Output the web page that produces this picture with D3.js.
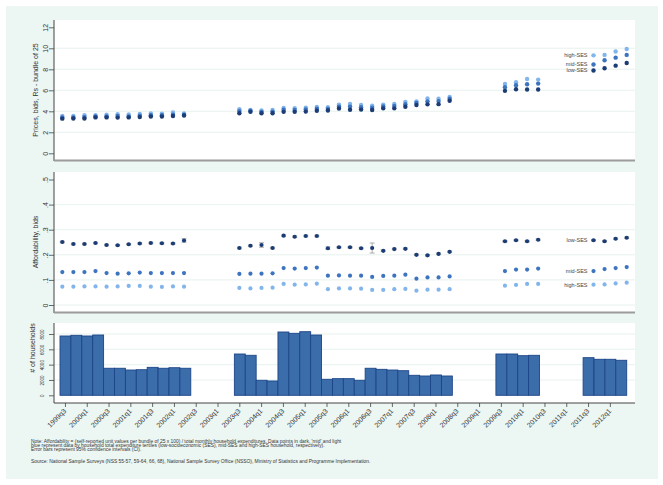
<!DOCTYPE html>
<html><head><meta charset="utf-8">
<script src="https://cdn.jsdelivr.net/npm/d3@7"></script>
<style>body{margin:0;background:#fff}svg{display:block;font-family:"Liberation Sans",Arial,Helvetica,sans-serif}</style>
</head><body><svg id="c" width="663" height="485"></svg>
<script>
// ---------------- DATA ----------------
const quarters = ["1999q3","1999q4","2000q1","2000q2","2000q3","2000q4","2001q1","2001q2","2001q3","2001q4",
 "2002q1","2002q2","2002q3","2002q4","2003q1","2003q2","2003q3","2003q4","2004q1","2004q2",
 "2004q3","2004q4","2005q1","2005q2","2005q3","2005q4","2006q1","2006q2","2006q3","2006q4",
 "2007q1","2007q2","2007q3","2007q4","2008q1","2008q2","2008q3","2008q4","2009q1","2009q2",
 "2009q3","2009q4","2010q1","2010q2","2010q3","2010q4","2011q1","2011q2","2011q3","2011q4",
 "2012q1","2012q2"];
const N = null;
// Prices, bids, Rs - bundle of 25
const priceLow  = [3.30,3.32,3.32,3.42,3.42,3.40,3.42,3.45,3.50,3.50,3.55,3.60, N,N,N,N,
 3.82,3.95,3.82,3.82,3.95,3.95,3.97,4.05,4.07,4.27,4.15,4.16,4.13,4.28,4.28,4.43,4.60,4.66,4.68,5.00, N,N,N,N,
 5.95,6.10,6.07,6.08, N,N,N,N, 7.88,8.10,8.35,8.60];
const priceMid  = [3.42,3.42,3.45,3.50,3.52,3.55,3.52,3.58,3.62,3.62,3.68,3.68, N,N,N,N,
 4.02,4.05,3.95,3.97,4.15,4.13,4.17,4.25,4.23,4.45,4.45,4.38,4.34,4.47,4.50,4.67,4.80,4.95,4.97,5.20, N,N,N,N,
 6.29,6.48,6.58,6.64, N,N,N,N, 8.45,8.86,9.11,9.37];
const priceHigh = [3.55,3.55,3.62,3.62,3.68,3.72,3.70,3.75,3.80,3.78,3.88,3.80, N,N,N,N,
 4.20,4.13,4.07,4.13,4.32,4.29,4.35,4.42,4.38,4.64,4.70,4.60,4.54,4.64,4.70,4.90,4.95,5.22,5.20,5.36, N,N,N,N,
 6.61,6.76,7.08,7.02, N,N,N,N, 9.33,9.37,9.69,9.94];
// Affordability, bids
const affLow  = [.251,.243,.243,.247,.239,.238,.242,.245,.247,.246,.245,.257, N,N,N,N,
 .227,.236,.239,.227,.276,.272,.275,.275,.226,.230,.230,.226,.227,.216,.223,.224,.200,.198,.204,.212, N,N,N,N,
 .254,.258,.254,.260, N,N,N,N, .258,.254,.264,.268];
const affLowCI = [.003,.003,.003,.003,.003,.003,.003,.003,.003,.003,.003,.007, N,N,N,N,
 .003,.003,.009,.003,.003,.003,.003,.003,.005,.003,.003,.003,.020,.003,.003,.003,.003,.003,.003,.003, N,N,N,N,
 .003,.003,.003,.003, N,N,N,N, .003,.003,.003,.003];
const affMid  = [.131,.131,.131,.135,.127,.125,.126,.129,.127,.127,.127,.127, N,N,N,N,
 .124,.125,.125,.126,.147,.145,.147,.149,.117,.118,.117,.117,.112,.116,.117,.121,.105,.110,.110,.114, N,N,N,N,
 .135,.141,.141,.145, N,N,N,N, .135,.143,.147,.151];
const affHigh = [.073,.073,.074,.074,.073,.074,.076,.076,.073,.072,.074,.073, N,N,N,N,
 .068,.066,.068,.069,.084,.081,.082,.085,.063,.066,.066,.065,.060,.060,.063,.064,.057,.061,.061,.063, N,N,N,N,
 .077,.080,.084,.084, N,N,N,N, .081,.082,.086,.089];
// # of households
const households = [7740,7830,7740,7870,3530,3530,3300,3340,3650,3530,3600,3530, N,N,N,N,
 5390,5220,1960,1870,8260,8090,8300,7870,2090,2170,2170,1960,3530,3390,3300,3210,2610,2520,2650,2520, N,N,N,N,
 5390,5390,5170,5220, N,N,N,N, 4910,4700,4700,4570];
const seriesNames = ["low-SES","mid-SES","high-SES"];
const priceTicks = [0,2,4,6,8,10,12];
const affTicks = [0,.1,.2,.3,.4,.5];
const hhTicks = [0,2000,4000,6000,8000];
const noteLines = [
 "Note: Affordability = (self-reported unit values per bundle of 25 x 100) / total monthly household expenditures. Data points in dark, 'mid' and light",
 "blue represent data by household total expenditure tertiles (low-socioeconomic (SES), mid-SES and high-SES household, respectively).",
 "Error bars represent 95% confidence intervals (CI)."
];
const sourceLine = "Source: National Sample Surveys (NSS 55-57, 59-64, 66, 68), National Sample Survey Office (NSSO), Ministry of Statistics and Programme Implementation.";

// ---------------- STYLE ----------------
const colLow = "#1b3c74", colMid = "#3d74c0", colHigh = "#82b5ec";
const mint = "#ecf6f3", gridCol = "#e1efeb", txt = "#333";
const PL = 54, PR = 635;

const svg = d3.select("#c");
svg.append("rect").attr("width",663).attr("height",485).attr("fill","#fff");
svg.append("rect").attr("x",6).attr("y",6).attr("width",652).attr("height",473).attr("fill",mint);

const xp = d3.scalePoint().domain(quarters).range([62.3, 626.7]);
const xb = d3.scaleBand().domain(quarters).range([60, 626.7]).padding(0);

function panel(o){
  const g = svg.append("g");
  g.append("rect").attr("x",PL).attr("y",o.top).attr("width",PR-PL).attr("height",o.bottom-o.top).attr("fill","#fff");
  g.selectAll("line.grid").data(o.grid).join("line").attr("class","grid")
    .attr("x1",PL).attr("x2",PR).attr("y1",d=>o.y(d)).attr("y2",d=>o.y(d))
    .attr("stroke",gridCol).attr("stroke-width",0.8);
  const ax = g.append("g").attr("transform",`translate(${PL},0)`)
    .call(d3.axisLeft(o.y).tickValues(o.ticks).tickSize(5).tickFormat(o.fmt));
  ax.select(".domain").remove();
  ax.selectAll(".tick line").attr("stroke","#444").attr("stroke-width",0.8);
  ax.selectAll(".tick text").attr("transform","rotate(-90)").attr("x",0).attr("y",o.labOff).attr("dy",0)
    .attr("text-anchor","middle").attr("font-size",o.labSize).attr("fill",txt).attr("font-family",null);
  g.append("line").attr("x1",PL).attr("x2",PL).attr("y1",o.top).attr("y2",o.bottom).attr("stroke","#444").attr("stroke-width",1);
  g.append("text").attr("transform",`translate(${o.titleX},${o.titleY}) rotate(-90)`).attr("text-anchor","middle")
    .attr("font-size",7).attr("fill",txt).text(o.title);
  return g;
}

// ---- Panel 1: prices
const y1 = d3.scaleLinear().domain([0,12]).range([153.3,27.3]);
const g1 = panel({top:20,bottom:161,y:y1,grid:[2,4,6,8,10],ticks:priceTicks,fmt:d=>d,labOff:-6,labSize:7,
  title:"Prices, bids, Rs - bundle of 25",titleX:37.5,titleY:90});
g1.append("line").attr("x1",PL).attr("x2",PR).attr("y1",160.5).attr("y2",160.5).attr("stroke","#9c9c9c").attr("stroke-width",2);

function dots(g, y, arr, col, r){
  g.append("g").selectAll("circle").data(arr.map((v,i)=>({q:quarters[i],v})).filter(d=>d.v!==null))
    .join("circle").attr("cx",d=>xp(d.q)).attr("cy",d=>y(d.v)).attr("r",r).attr("fill",col);
}
dots(g1,y1,priceHigh,colHigh,2.2);
dots(g1,y1,priceMid,colMid,2.2);
dots(g1,y1,priceLow,colLow,2.2);
function labels(g,y,vals){
  const q = quarters[48], i = 48;
  vals.forEach(([name,arr])=>{
    g.append("text").attr("x",xp(q)-6).attr("y",y(arr[i])+1.9).attr("text-anchor","end")
      .attr("font-size",5.5).attr("fill","#444").text(name);
  });
}
labels(g1,y1,[["high-SES",priceHigh],["mid-SES",priceMid],["low-SES",priceLow]]);

// ---- Panel 2: affordability
const y2 = d3.scaleLinear().domain([0,.5]).range([305,179.5]);
const g2 = panel({top:172,bottom:313,y:y2,grid:[0,.1,.2,.3,.4],ticks:affTicks,fmt:d=>d===0?"0":d3.format(".1f")(d).replace(/^0/,""),labOff:-6,labSize:7,
  title:"Affordability, bids",titleX:37.5,titleY:242});
g2.append("line").attr("x1",PL).attr("x2",PR).attr("y1",312.5).attr("y2",312.5).attr("stroke","#9c9c9c").attr("stroke-width",2);
// error bars (low-SES)
const eb = affLow.map((v,i)=>({q:quarters[i],v,c:affLowCI[i]})).filter(d=>d.v!==null);
const ebg = g2.append("g").attr("stroke","#8c8c8c").attr("stroke-width",0.7);
eb.forEach(d=>{
  const x = xp(d.q), ya = y2(d.v-d.c), yb = y2(d.v+d.c);
  ebg.append("line").attr("x1",x).attr("x2",x).attr("y1",ya).attr("y2",yb);
  ebg.append("line").attr("x1",x-2.5).attr("x2",x+2.5).attr("y1",ya).attr("y2",ya);
  ebg.append("line").attr("x1",x-2.5).attr("x2",x+2.5).attr("y1",yb).attr("y2",yb);
});
dots(g2,y2,affHigh,colHigh,2.1);
dots(g2,y2,affMid,colMid,2.1);
dots(g2,y2,affLow,colLow,2.1);
labels(g2,y2,[["low-SES",affLow],["mid-SES",affMid],["high-SES",affHigh]]);

// ---- Panel 3: households
const y3 = d3.scaleLinear().domain([0,8000]).range([395.3,334]);
const g3 = panel({top:323,bottom:403,y:y3,grid:[2000,4000,6000,8000],ticks:hhTicks,fmt:d=>d,labOff:-10.5,labSize:4.6,
  title:"# of households",titleX:35,titleY:348});
g3.append("g").selectAll("rect").data(households.map((v,i)=>({q:quarters[i],v})).filter(d=>d.v!==null))
  .join("rect").attr("x",d=>xb(d.q)).attr("width",xb.bandwidth()).attr("y",d=>y3(d.v)).attr("height",d=>y3(0)-y3(d.v))
  .attr("fill","#3c6dab").attr("stroke","#1c4588").attr("stroke-width",0.9);
const xa = g3.append("g").attr("transform","translate(0,403)")
  .call(d3.axisBottom(xb).tickValues(quarters.filter((d,i)=>i%2===0)).tickSize(4).tickSizeOuter(0));
xa.select(".domain").attr("d",`M${PL},0H${PR}`).attr("stroke","#444").attr("stroke-width",1);
xa.selectAll(".tick line").attr("stroke","#444").attr("stroke-width",0.8);
xa.selectAll(".tick text").attr("x",0).attr("y",0).attr("dy",0).attr("text-anchor","end")
  .attr("transform","translate(1.3,8.5) rotate(-45)").attr("font-size",7).attr("fill",txt).attr("font-family",null);

// ---- Notes
const nt = svg.append("g").attr("font-size",4.9).attr("fill",txt);
noteLines.forEach((t,i)=>nt.append("text").attr("x",31).attr("y",442.5+i*4.4).text(t));
nt.append("text").attr("x",31).attr("y",463).text(sourceLine);
</script></body></html>
